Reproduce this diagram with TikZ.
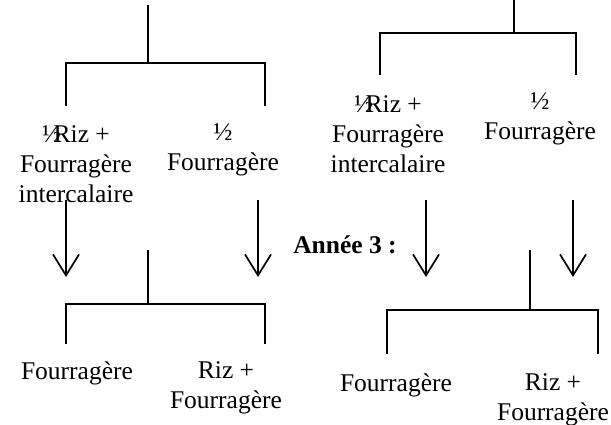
\documentclass[tikz,border=0pt]{standalone}
\usepackage{fontspec}
\setmainfont{Liberation Serif}
\usetikzlibrary{arrows.meta}
\begin{document}
\begin{tikzpicture}[x=1pt,y=-1pt,
  line/.style={line width=1.7pt},
  arr/.style={line width=1.7pt,-{Straight Barb[length=21pt,width=26pt,line width=1.7pt]}},
  lbl/.style={inner sep=0pt,align=center,font=\fontsize{25.5pt}{30pt}\selectfont},
  bold/.style={lbl,font=\fontsize{25.5pt}{30pt}\selectfont\bfseries}]
\useasboundingbox (0,0) rectangle (611,425);
\clip (0,0) rectangle (611,425);
% ---------- left upper tree ----------
\coordinate (LUtop) at (148,5);
\coordinate (LUj) at (148,63);
\coordinate (LUl) at (66,63);
\coordinate (LUr) at (265,63);
\coordinate (LUlb) at (66,106);
\coordinate (LUrb) at (265,106);
\draw[line] (LUtop) -- (LUj);
\draw[line] (LUlb) -- (LUl) -- (LUr) -- (LUrb);
\node[lbl] (LUa) at (76,164) {½\kern-0.3em Riz +\\Fourragère\\intercalaire};
\node[lbl] (LUb) at (223,150) {½\\Fourragère};
% arrows left
\coordinate (LA1s) at (66,200);
\coordinate (LA1e) at (66,277);
\coordinate (LA2s) at (258,200);
\coordinate (LA2e) at (258,277);
\draw[arr] (LA1s) -- (LA1e);
\draw[arr] (LA2s) -- (LA2e);
% ---------- left lower tree ----------
\coordinate (LLtop) at (148,250);
\coordinate (LLj) at (148,304);
\coordinate (LLl) at (66,304);
\coordinate (LLr) at (265,304);
\coordinate (LLlb) at (66,344);
\coordinate (LLrb) at (265,344);
\draw[line] (LLtop) -- (LLj);
\draw[line] (LLlb) -- (LLl) -- (LLr) -- (LLrb);
\node[lbl] (LLa) at (77,373) {Fourragère};
\node[lbl] (LLb) at (226,388) {Riz +\\Fourragère};
% ---------- label ----------
\node[bold] (annee) at (345,245) {Année 3 :};
% ---------- right upper tree ----------
\coordinate (RUtop) at (514,0);
\coordinate (RUj) at (514,33);
\coordinate (RUl) at (380,33);
\coordinate (RUr) at (576,33);
\coordinate (RUlb) at (380,75);
\coordinate (RUrb) at (576,75);
\draw[line] (RUtop) -- (RUj);
\draw[line] (RUlb) -- (RUl) -- (RUr) -- (RUrb);
\node[lbl] (RUa) at (388,134) {½\kern-0.3em Riz +\\Fourragère\\intercalaire};
\node[lbl] (RUb) at (540,119) {½\\Fourragère};
% arrows right
\coordinate (RA1s) at (426,200);
\coordinate (RA1e) at (426,277);
\coordinate (RA2s) at (573,200);
\coordinate (RA2e) at (573,277);
\draw[arr] (RA1s) -- (RA1e);
\draw[arr] (RA2s) -- (RA2e);
% ---------- right lower tree ----------
\coordinate (RLtop) at (530,250);
\coordinate (RLj) at (530,310);
\coordinate (RLl) at (387,310);
\coordinate (RLr) at (598,310);
\coordinate (RLlb) at (387,354);
\coordinate (RLrb) at (598,354);
\draw[line] (RLtop) -- (RLj);
\draw[line] (RLlb) -- (RLl) -- (RLr) -- (RLrb);
\node[lbl] (RLa) at (396,385) {Fourragère};
\node[lbl] (RLb) at (553,400) {Riz +\\Fourragère};
\end{tikzpicture}
\end{document}
